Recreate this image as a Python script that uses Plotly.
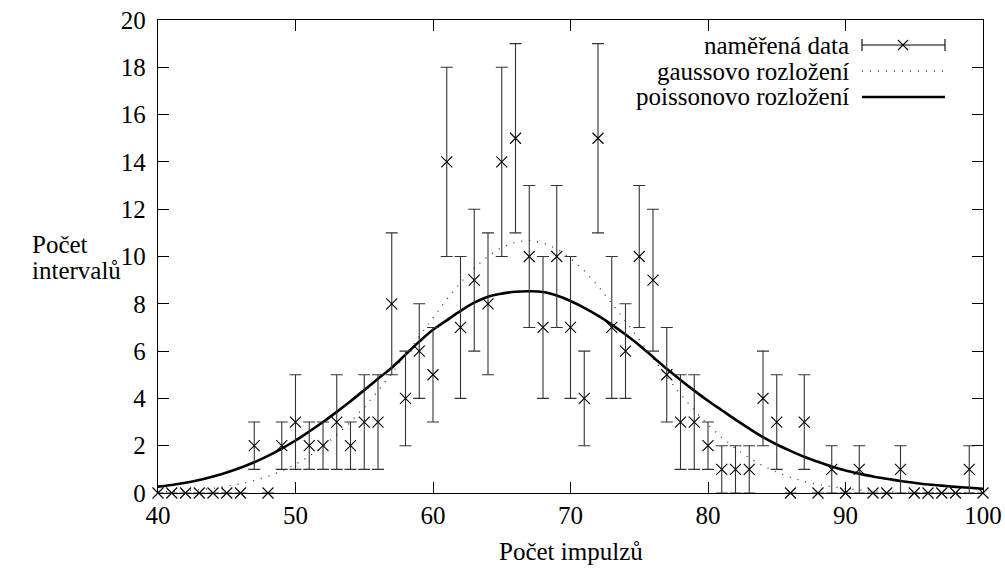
import plotly.graph_objects as go

# ---- data ----
x_counts = list(range(40, 101))
measured = [0, 0, 0, 0, 0, 0, 0, 2, 0, 2,
            3, 2, 2, 3, 2, 3, 3, 8, 4, 6,
            5, 14, 7, 9, 8, 14, 15, 10, 7, 10,
            7, 4, 15, 7, 6, 10, 9, 5, 3, 3,
            2, 1, 1, 1, 4, 3, 0, 3, 0, 1,
            0, 1, 0, 0, 1, 0, 0, 0, 0, 1,
            0]
measured_err = [0, 0, 0, 0, 0, 0, 0, 1, 0, 1,
                2, 1, 1, 2, 1, 2, 2, 3, 2, 2,
                2, 4, 3, 3, 3, 4, 4, 3, 3, 3,
                3, 2, 4, 3, 2, 3, 3, 2, 2, 2,
                1, 1, 1, 1, 2, 2, 0, 2, 0, 1,
                0, 1, 0, 0, 1, 0, 0, 0, 0, 1,
                0]
gauss = [0.043, 0.064, 0.095, 0.137, 0.196, 0.276, 0.383, 0.522, 0.702, 0.929,
         1.21, 1.55, 1.97, 2.45, 3.00, 3.63, 4.32, 5.06, 5.84, 6.64,
         7.43, 8.19, 8.89, 9.51, 10.02, 10.39, 10.61, 10.68, 10.58, 10.33,
         9.93, 9.40, 8.76, 8.04, 7.27, 6.48, 5.68, 4.91, 4.18, 3.50,
         2.89, 2.35, 1.88, 1.48, 1.15, 0.879, 0.662, 0.491, 0.359, 0.258,
         0.183, 0.128, 0.088, 0.060, 0.040, 0.027, 0.018, 0.012, 0.008, 0.005,
         0.003]
poisson = [0.27, 0.34, 0.43, 0.55, 0.70, 0.87, 1.07, 1.30, 1.57, 1.88,
           2.22, 2.60, 3.00, 3.43, 3.88, 4.35, 4.83, 5.30, 5.85, 6.40,
           6.90, 7.30, 7.70, 8.05, 8.30, 8.43, 8.51, 8.53, 8.50, 8.35,
           8.12, 7.83, 7.50, 7.12, 6.70, 6.25, 5.75, 5.25, 4.78, 4.33,
           3.90, 3.50, 3.10, 2.72, 2.36, 2.05, 1.78, 1.53, 1.32, 1.12,
           0.95, 0.82, 0.70, 0.60, 0.51, 0.43, 0.36, 0.31, 0.26, 0.22,
           0.18]
x_ticks = [40, 50, 60, 70, 80, 90, 100]
y_ticks = [0, 2, 4, 6, 8, 10, 12, 14, 16, 18, 20]
legend_labels = ["naměřená data", "gaussovo rozložení", "poissonovo rozložení"]
x_title = "Počet impulzů"
y_title_lines = ["Počet", "intervalů"]

FONT = "Liberation Serif, Times New Roman, Tinos, DejaVu Serif, serif"
FS = 25
L, R, T, B = 158, 22, 20, 80
W, H = 1005, 573
PW, PH = W - L - R, H - T - B


def px(xp):
    return (xp - L) / PW


def py(yp):
    return (H - B - yp) / PH


fig = go.Figure()
fig.add_trace(go.Scatter(
    x=x_counts, y=gauss, mode="lines",
    line=dict(color="#333333", width=1.3, dash="1px,7px"),
    showlegend=False, hoverinfo="skip"))
fig.add_trace(go.Scatter(
    x=x_counts, y=poisson, mode="lines", line_shape="spline",
    line=dict(color="black", width=2.6),
    showlegend=False))
fig.add_trace(go.Scatter(
    x=x_counts, y=measured, mode="markers",
    marker=dict(symbol="x-thin-open", size=11, color="black",
                line=dict(color="black", width=1.1)),
    error_y=dict(type="data", array=measured_err, visible=True,
                 color="#333333", thickness=1.1, width=6),
    cliponaxis=False, showlegend=False))

axis_common = dict(showline=True, linecolor="black", linewidth=1.4, mirror="allticks",
                   ticks="inside", ticklen=11, tickwidth=1, tickcolor="black",
                   showgrid=False, zeroline=False, automargin=False,
                   tickfont=dict(family=FONT, size=FS, color="black"))
fig.update_xaxes(range=[40, 100], tickvals=x_ticks, ticktext=[str(v) for v in x_ticks],
                 **axis_common)
fig.update_yaxes(range=[0, 20], tickvals=y_ticks, ticktext=[str(v) for v in y_ticks],
                 ticklabelstandoff=6, **axis_common)

annotations = [
    dict(text=x_title, x=0.5, y=py(551), xref="paper", yref="paper",
         showarrow=False, xanchor="center", yanchor="middle",
         font=dict(family=FONT, size=FS, color="black")),
]
for line_txt, ly in zip(y_title_lines, [244, 270]):
    annotations.append(dict(text=line_txt, x=px(30), y=py(ly), xref="paper", yref="paper",
                            showarrow=False, xanchor="left", yanchor="middle",
                            font=dict(family=FONT, size=FS, color="black")))
rows = [45, 71, 97]
for lab, ry in zip(legend_labels, rows):
    annotations.append(dict(text=lab, x=px(851), y=py(ry), xref="paper", yref="paper",
                            showarrow=False, xanchor="right", yanchor="middle",
                            font=dict(family=FONT, size=FS, color="black")))

shapes = []
x0, x1, xm = px(862), px(945), px(903)
y1 = py(rows[0])
dy6 = 6 / PH
dx5, dy5 = 5 / PW, 5 / PH
line_k = dict(color="black", width=1.1)
shapes += [
    dict(type="line", xref="paper", yref="paper", x0=x0, x1=x1, y0=y1, y1=y1, line=line_k),
    dict(type="line", xref="paper", yref="paper", x0=x0, x1=x0, y0=y1 - dy6, y1=y1 + dy6, line=line_k),
    dict(type="line", xref="paper", yref="paper", x0=x1, x1=x1, y0=y1 - dy6, y1=y1 + dy6, line=line_k),
    dict(type="line", xref="paper", yref="paper", x0=xm - dx5, x1=xm + dx5, y0=y1 - dy5, y1=y1 + dy5, line=line_k),
    dict(type="line", xref="paper", yref="paper", x0=xm - dx5, x1=xm + dx5, y0=y1 + dy5, y1=y1 - dy5, line=line_k),
    dict(type="line", xref="paper", yref="paper", x0=x0, x1=x1, y0=py(rows[1]), y1=py(rows[1]),
         line=dict(color="#333333", width=1.3, dash="1px,7px")),
    dict(type="line", xref="paper", yref="paper", x0=x0, x1=x1, y0=py(rows[2]), y1=py(rows[2]),
         line=dict(color="black", width=2.6)),
]

fig.update_layout(
    width=W, height=H,
    margin=dict(l=L, r=R, t=T, b=B),
    paper_bgcolor="white", plot_bgcolor="white",
    font=dict(family=FONT, size=FS, color="black"),
    annotations=annotations, shapes=shapes,
    showlegend=False,
)

fig.write_html("out.html", config={"displayModeBar": False},
               post_script="document.body.style.margin='0';document.body.style.padding='0';")
